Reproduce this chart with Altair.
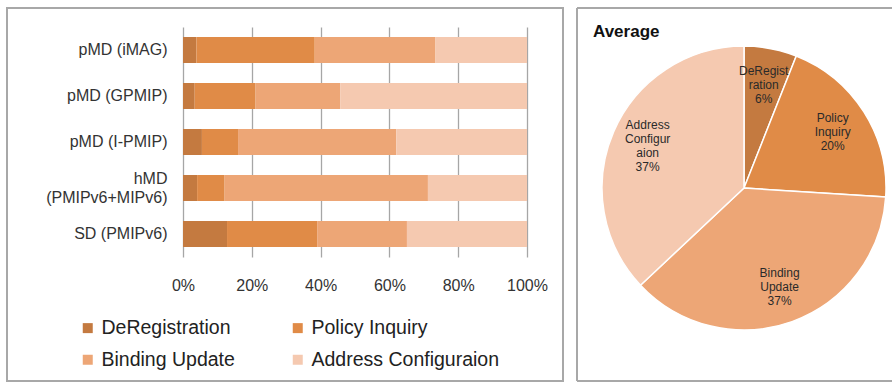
import altair as alt
import pandas as pd

# Handover signalling phases, share of total cost per scheme (%)
schemes = ["pMD (iMAG)", "pMD (GPMIP)", "pMD (I-PMIP)", "hMD (PMIPv6+MIPv6)", "SD (PMIPv6)"]
phases = ["DeRegistration", "Policy Inquiry", "Binding Update", "Address Configuraion"]
deregistration = [3.9, 3.4, 5.5, 4.1, 12.8]
policy_inquiry = [34.4, 17.7, 10.5, 8.0, 26.2]
binding_update = [35.1, 24.6, 46.0, 59.1, 26.1]
address_config = [26.6, 54.3, 38.0, 28.8, 34.9]

# Average share of each phase (pie)
avg_share = [6, 20, 37, 37]
avg_names = ["DeRegist\nration", "Policy\nInquiry", "Binding\nUpdate", "Address\nConfigur\naion"]

x_ticks = [0, 0.2, 0.4, 0.6, 0.8, 1.0]
colors = ["#c47a40", "#e08b47", "#eda676", "#f5c9b0"]

FONT = "Liberation Sans"
BORDER = "#a8a8a8"
PIE_LINE = 14
NO_FRAME = alt.ViewBackground(stroke="transparent", strokeWidth=0, strokeOpacity=0)

series = [deregistration, policy_inquiry, binding_update, address_config]
bar_rows = []
for k, (phase, vals) in enumerate(zip(phases, series)):
    for scheme, v in zip(schemes, vals):
        bar_rows.append({"scheme": scheme, "phase": phase, "k": k, "share": v})
bar_df = pd.DataFrame(bar_rows)

pie_text = [f"{n}\n{v}%" for n, v in zip(avg_names, avg_share)]
pie_df = pd.DataFrame({
    "phase": phases,
    "k": list(range(len(phases))),
    "share": avg_share,
    "text": pie_text,
    "lines": [t.count("\n") + 1 for t in pie_text],
})

one_row = pd.DataFrame({"t": ["Average"]})
color_scale = alt.Scale(domain=phases, range=colors)

# ---- left panel: 100% stacked bars ----
two_line = "hMD (PMIPv6+MIPv6)"
bars = alt.Chart(bar_df).mark_bar().encode(
    y=alt.Y(
        "scheme:N",
        sort=schemes,
        scale=alt.Scale(paddingInner=0.435, paddingOuter=0.2175),
        axis=alt.Axis(
            title=None, ticks=False, domain=False, labelFontSize=16, labelPadding=16,
            labelLimit=0, labelLineHeight=19, labelColor="#333333", labelFont=FONT,
            labelExpr=f"datum.label == '{two_line}' ? "
                      "['hMD\u00a0\u00a0\u00a0\u00a0\u00a0\u00a0\u00a0\u00a0\u00a0\u00a0', '(PMIPv6+MIPv6)'] : datum.label",
            labelOffset={"condition": {"test": f"datum.label == '{two_line}'", "value": -9.5}, "value": 0},
        ),
    ),
    x=alt.X(
        "share:Q",
        stack="normalize",
        scale=alt.Scale(domain=[0, 1], nice=False),
        axis=alt.Axis(
            title=None, format=".0%", values=x_ticks, ticks=False, domain=False,
            labelFontSize=16, labelPadding=20, labelColor="#333333", labelFont=FONT,
            labelFlush=False, labelOverlap=False,
            grid=True, gridColor="#a6a6a6", gridWidth=1.3,
        ),
    ),
    order=alt.Order("k:Q"),
    color=alt.Color(
        "phase:N",
        scale=color_scale,
        legend=alt.Legend(
            title=None, orient="none", legendX=-105, legendY=291, columns=2,
            direction="horizontal",
            symbolType="square", symbolSize=100, symbolStrokeWidth=0,
            labelFontSize=19.5, labelFont=FONT, labelColor="#222222", labelOffset=4,
            columnPadding=53, rowPadding=11, padding=0, labelLimit=0,
        ),
    ),
)

left_frame = alt.Chart(one_row).mark_rect(fillOpacity=0, stroke=BORDER, strokeWidth=2).encode(
    x=alt.value(-176), x2=alt.value(380), y=alt.value(-19), y2=alt.value(354)
)

left = alt.layer(left_frame, bars).properties(width=344, height=230, view=NO_FRAME)

# ---- right panel: average pie ----
arcs = alt.Chart(pie_df).mark_arc(outerRadius=142, stroke="white", strokeWidth=1.5).encode(
    theta=alt.Theta("share:Q", stack=True),
    order=alt.Order("k:Q"),
    color=alt.Color("phase:N", scale=color_scale, legend=None),
)

# slice mid-angles, then one text layer per line count so each block is centred
label_base = (
    alt.Chart(pie_df)
    .transform_window(cum="sum(share)", sort=[alt.SortField("k")])
    .transform_calculate(mid="datum.cum - datum.share / 2")
)
label_layers = []
for n in sorted(set(pie_df["lines"])):
    label_layers.append(
        label_base.transform_filter(f"datum.lines == {n}")
        .mark_text(radius=105, fontSize=12, lineBreak="\n", lineHeight=PIE_LINE,
                   dy=-(n - 1) * PIE_LINE / 2, color="#2a2a2a", font=FONT)
        .encode(theta=alt.Theta("mid:Q", stack=None), text="text:N")
    )

title = alt.Chart(one_row).mark_text(
    align="left", baseline="alphabetic", fontSize=17, fontWeight="bold", font=FONT, color="#111111"
).encode(x=alt.value(-9), y=alt.value(10), text="t:N")

rule_style = dict(color=BORDER, strokeWidth=2)
frame_top = alt.Chart(one_row).mark_rule(**rule_style).encode(
    x=alt.value(-25), x2=alt.value(290), y=alt.value(-19), y2=alt.value(-19))
frame_left = alt.Chart(one_row).mark_rule(**rule_style).encode(
    x=alt.value(-25), x2=alt.value(-25), y=alt.value(-19), y2=alt.value(354))
frame_bottom = alt.Chart(one_row).mark_rule(**rule_style).encode(
    x=alt.value(-25), x2=alt.value(290), y=alt.value(354), y2=alt.value(354))

right = alt.layer(frame_top, frame_left, frame_bottom, arcs, *label_layers, title).properties(
    width=284, height=322, view=NO_FRAME
)

chart = (
    alt.hconcat(left, right, spacing=12)
    .properties(padding={"left": 6, "top": 7, "right": 0, "bottom": 0}, background="white")
    .configure_view(stroke="transparent", strokeWidth=0)
    .configure(font=FONT)
)

chart.save("out.html", embed_options={"renderer": "svg", "actions": False})
